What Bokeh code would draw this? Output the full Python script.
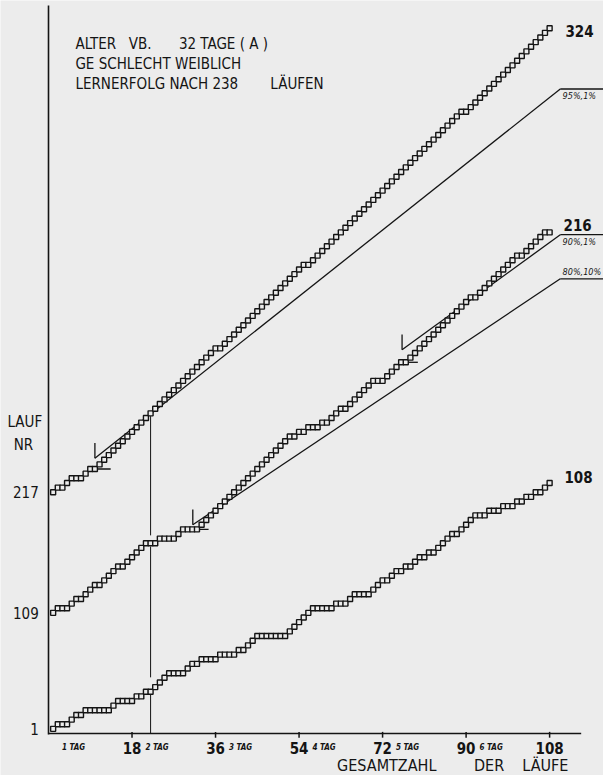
from bokeh.plotting import figure
from bokeh.models import Label
from bokeh.embed import file_html
from bokeh.resources import INLINE

# ---------------- data ----------------
runs = list(range(1, 109))                 # run number within each block of 108
block_first_run = [1, 109, 217]
block_last_run = [108, 216, 324]
block_baseline = [1, 26, 52]               # level at which each block's curve starts
# runs (within block) with an error: the curve stays flat on these runs
bottom_errors = [3, 4, 7, 9, 10, 11, 12, 13, 16, 17, 18, 20, 22, 27, 28, 29, 32,
                 34, 35, 36, 38, 39, 40, 42, 46, 47, 48, 49, 50, 51, 58, 59, 60, 61,
                 63, 64, 67, 68, 69, 73, 76, 78, 81, 83, 88, 93, 94, 96, 97, 99, 100,
                 102, 104, 106]
middle_errors = [3, 4, 7, 11, 16, 22, 23, 25, 26, 27, 30, 31, 32, 53, 55, 57, 58,
                 60, 64, 71, 72, 77, 92, 102, 108]
top_errors = [3, 6, 7, 10, 37, 56, 90]
criterion_run = 238 - 216                  # learning criterion reached after run 238

x_ticks = [18, 36, 54, 72, 90, 108]
day_labels = ["1 TAG", "2 TAG", "3 TAG", "4 TAG", "5 TAG", "6 TAG"]
runs_per_day = 18

crit_labels = ["95%,1%", "90%,1%", "80%,10%"]
crit_x0 = [10.0, 76.2, 31.1]
crit_y0 = [59.3, 82.7, 45.0]
crit_x1 = [110.3, 110.3, 110.3]
crit_y1 = [138.9, 107.5, 98.0]
crit_base = [57, 80, 44]

# ---------------- helpers ----------------
def curve(start, errors):
    ys, y = [], start
    for k in runs:
        if k > 1 and k not in errors:
            y += 1
        ys.append(y)
    return ys

series = [curve(block_baseline[0], bottom_errors),
          curve(block_baseline[1], middle_errors),
          curve(block_baseline[2], top_errors)]

BG = "#ececec"
INK = "#141414"
COND = "DejaVu Sans Condensed, DejaVu Sans"

S = 4.64                      # pixels per unit (both axes)
W, H = 603, 775
X0, Y0 = 48, 733              # where (0, 0) sits inside the figure
X_START, X_END = -X0 / S, (W - X0) / S
Y_START, Y_END = -(H - Y0) / S, Y0 / S
AXIS_END = 114.8

p = figure(width=W, height=H, x_range=(X_START, X_END), y_range=(Y_START, Y_END),
           output_backend="svg", toolbar_location=None,
           x_axis_type=None, y_axis_type=None,
           min_border_left=0, min_border_right=0, min_border_top=0, min_border_bottom=0)
p.background_fill_color = BG
p.border_fill_color = BG
p.outline_line_color = None
p.grid.visible = False

# axes drawn in data space
p.segment(x0=[0, 0], y0=[0, -0.2], x1=[AXIS_END, 0], y1=[0, (Y0 - 5) / S],
          line_color=INK, line_width=1.6)
p.segment(x0=x_ticks, y0=[-0.9] * len(x_ticks), x1=x_ticks, y1=[0.35] * len(x_ticks),
          line_color=INK, line_width=1.5)

# vertical line at the learning criterion
top_at = series[2][criterion_run - 1]
mid_at = series[1][criterion_run - 1]
bot_at = series[0][criterion_run - 1]
p.segment(x0=[criterion_run] * 3, x1=[criterion_run] * 3,
          y0=[top_at - 0.6, mid_at - 0.7, bot_at - 0.4],
          y1=[mid_at + 1.7, bot_at + 3.1, 0],
          line_color=INK, line_width=1.0)

# criterion lines
ext_x0, ext_y0, ext_x1, ext_y1 = [], [], [], []
for i in range(3):
    ext_x0 += [crit_x0[i], crit_x1[i], crit_x0[i], crit_x0[i] - 0.2]
    ext_y0 += [crit_y0[i], crit_y1[i], crit_y0[i], crit_base[i]]
    ext_x1 += [crit_x1[i], X_END, crit_x0[i], crit_x0[i] + 3.4]
    ext_y1 += [crit_y1[i], crit_y1[i], crit_y0[i] + 3.3, crit_base[i]]
p.segment(x0=ext_x0, y0=ext_y0, x1=ext_x1, y1=ext_y1, line_color=INK, line_width=1.3)

# staircase curves
for ys in series:
    p.line(runs, ys, line_color=INK, line_width=1.2)
    p.scatter(runs, ys, marker="square", size=5, line_color=INK, line_width=1.4,
              fill_color=BG)

# ---------------- texts ----------------
def lab(x, y, t, font=COND, size="15px", style="normal", align="left", base="middle"):
    p.add_layout(Label(x=x, y=y, text=t, text_font=font, text_font_size=size,
                       text_font_style=style, text_align=align, text_baseline=base,
                       text_color=INK))

# header block
lab(5.8, 148.6, "ALTER")
lab(17.3, 148.6, "VB.")
lab(28.1, 148.6, "32 TAGE ( A )")
lab(5.8, 144.3, "GE SCHLECHT WEIBLICH")
lab(5.8, 140.0, "LERNERFOLG NACH 238")
lab(47.8, 140.0, "LÄUFEN")

# y axis texts
lab(-5.1, 67.1, "LAUF", align="center")
lab(-5.4, 62.1, "NR", align="center")
for b, r in zip(block_baseline, block_first_run):
    lab(-2.1, b, str(r), align="right")

# x axis texts
for t in x_ticks:
    lab(t, -3.1, str(t), size="15px", style="bold", align="center")
for d, t in enumerate(day_labels):
    lab(runs_per_day * d + 5.4, -3.1, t, size="8px", style="bold italic",
        align="center")
lab(62.2, -7.0, "GESAMTZAHL", size="16px")
lab(91.7, -7.0, "DER", size="16px")
lab(102.1, -7.0, "LÄUFE", size="16px")

# block end labels
end_pos = [(111.2, 55.2), (111.0, 109.5), (111.4, 151.5)]
for (ex, ey), r in zip(end_pos, block_last_run):
    lab(ex, ey, str(r), size="15px", style="bold")

# criterion labels
crit_text_y = [137.4, 105.9, 98.3]
crit_text_base = ["middle", "middle", "bottom"]
for t, ty, tb in zip(crit_labels, crit_text_y, crit_text_base):
    lab(110.8, ty, t, size="9px", style="italic", base=tb)

open("out.html", "w").write(file_html(p, INLINE))
